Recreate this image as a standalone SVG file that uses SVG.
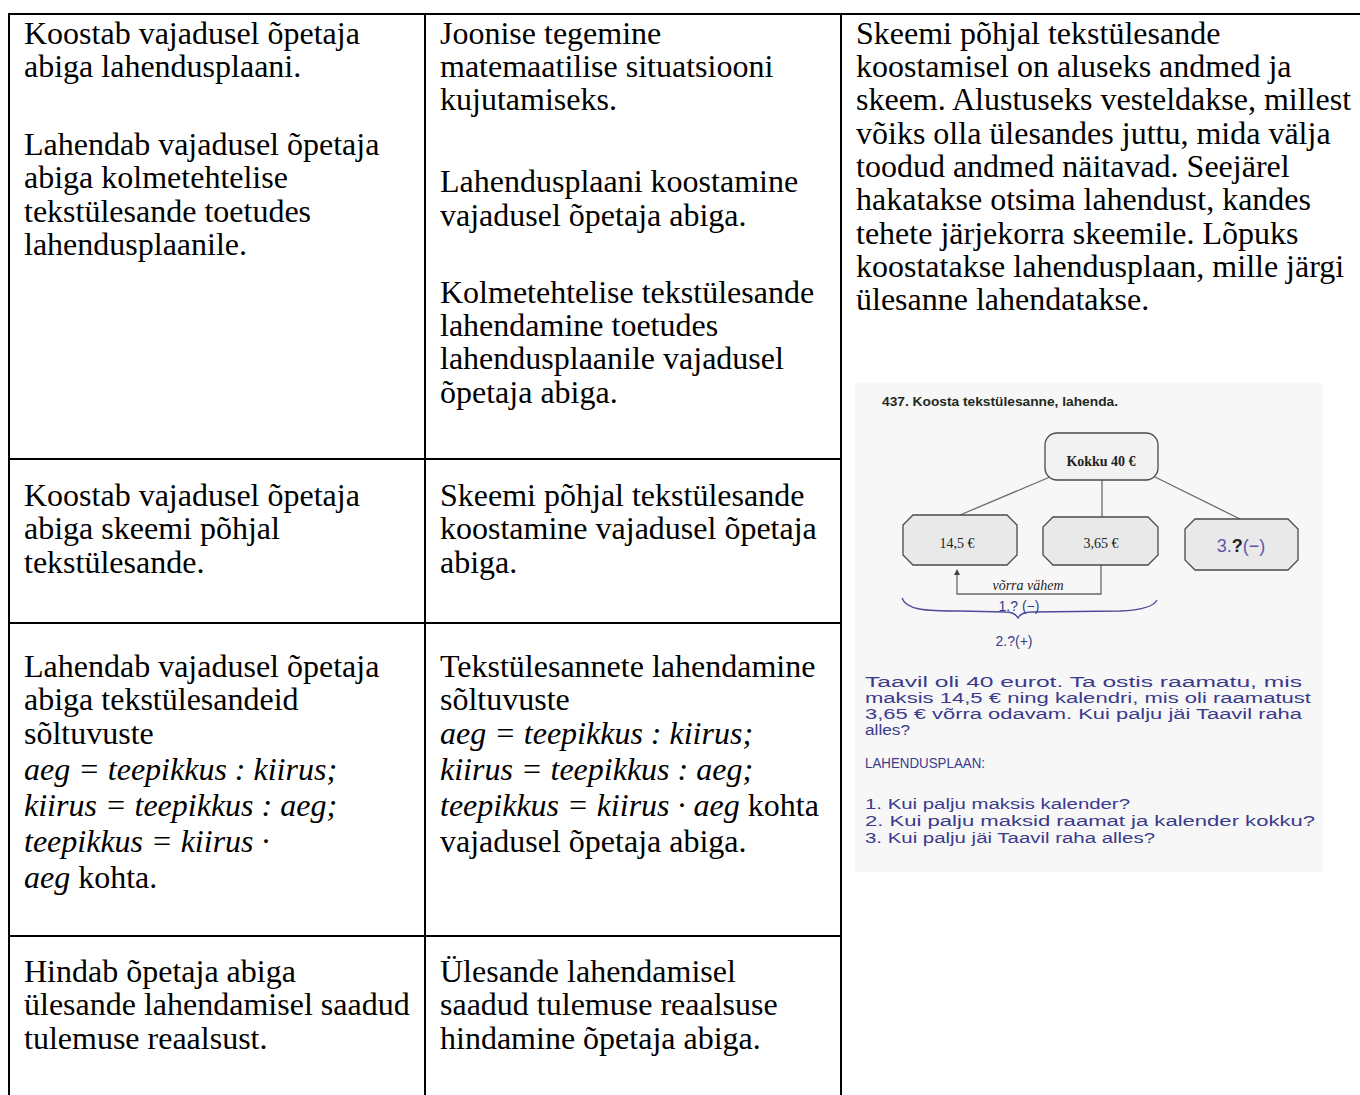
<svg xmlns="http://www.w3.org/2000/svg" width="1360" height="1095" viewBox="0 0 1360 1095">
<style>
.t{font-family:"Liberation Serif","Times New Roman",serif;font-size:32px;fill:#000}
.i{font-style:italic}
.grid{stroke:#000;stroke-width:2;fill:none}
.hw{font-family:"Liberation Sans",Arial,sans-serif;font-size:14px;fill:#3a3a8c}
.box{fill:#e9e9e9;stroke:#4a4a4a;stroke-width:1.3}
.sl{stroke:#6a6a6a;stroke-width:1.3;fill:none}
.st{font-family:"Liberation Serif","Times New Roman",serif;font-size:14px;fill:#222}
</style>
<defs>
<marker id="ah" markerWidth="6" markerHeight="6" refX="3" refY="3" orient="auto" markerUnits="userSpaceOnUse">
<path d="M0,0 L6,3 L0,6 z" fill="#444"/>
</marker>
</defs>
<rect width="1360" height="1095" fill="#fff"/>

<g id="grid">
<line class="grid" x1="8" y1="14" x2="1360" y2="14"/>
<line class="grid" x1="9" y1="13" x2="9" y2="1095"/>
<line class="grid" x1="425" y1="13" x2="425" y2="1095"/>
<line class="grid" x1="841" y1="13" x2="841" y2="1095"/>
<line class="grid" x1="8" y1="459" x2="842" y2="459"/>
<line class="grid" x1="8" y1="623" x2="842" y2="623"/>
<line class="grid" x1="8" y1="936" x2="842" y2="936"/>
</g>

<g id="r1c1">
<text class="t" x="24" y="44">Koostab vajadusel õpetaja</text>
<text class="t" x="24" y="77">abiga lahendusplaani.</text>
<text class="t" x="24" y="155">Lahendab vajadusel õpetaja</text>
<text class="t" x="24" y="188">abiga kolmetehtelise</text>
<text class="t" x="24" y="222">tekstülesande toetudes</text>
<text class="t" x="24" y="255">lahendusplaanile.</text>
</g>

<g id="r1c2">
<text class="t" x="440" y="44">Joonise tegemine</text>
<text class="t" x="440" y="77">matemaatilise situatsiooni</text>
<text class="t" x="440" y="110">kujutamiseks.</text>
<text class="t" x="440" y="192">Lahendusplaani koostamine</text>
<text class="t" x="440" y="226">vajadusel õpetaja abiga.</text>
<text class="t" x="440" y="303">Kolmetehtelise tekstülesande</text>
<text class="t" x="440" y="336">lahendamine toetudes</text>
<text class="t" x="440" y="369">lahendusplaanile vajadusel</text>
<text class="t" x="440" y="403">õpetaja abiga.</text>
</g>

<g id="r2c1">
<text class="t" x="24" y="506">Koostab vajadusel õpetaja</text>
<text class="t" x="24" y="539">abiga skeemi põhjal</text>
<text class="t" x="24" y="573">tekstülesande.</text>
</g>

<g id="r2c2">
<text class="t" x="440" y="506">Skeemi põhjal tekstülesande</text>
<text class="t" x="440" y="539">koostamine vajadusel õpetaja</text>
<text class="t" x="440" y="573">abiga.</text>
</g>

<g id="r3c1">
<text class="t" x="24" y="677">Lahendab vajadusel õpetaja</text>
<text class="t" x="24" y="710">abiga tekstülesandeid</text>
<text class="t" x="24" y="744">sõltuvuste</text>
<text class="t i" x="24" y="780">aeg = teepikkus : kiirus;</text>
<text class="t i" x="24" y="816">kiirus = teepikkus : aeg;</text>
<text class="t i" x="24" y="852">teepikkus = kiirus ·</text>
<text class="t" x="24" y="888"><tspan class="i">aeg</tspan> kohta.</text>
</g>

<g id="r3c2">
<text class="t" x="440" y="677">Tekstülesannete lahendamine</text>
<text class="t" x="440" y="710">sõltuvuste</text>
<text class="t i" x="440" y="744">aeg = teepikkus : kiirus;</text>
<text class="t i" x="440" y="780">kiirus = teepikkus : aeg;</text>
<text class="t" x="440" y="816"><tspan class="i">teepikkus = kiirus · aeg</tspan> kohta</text>
<text class="t" x="440" y="852">vajadusel õpetaja abiga.</text>
</g>

<g id="r4c1">
<text class="t" x="24" y="982">Hindab õpetaja abiga</text>
<text class="t" x="24" y="1015">ülesande lahendamisel saadud</text>
<text class="t" x="24" y="1049">tulemuse reaalsust.</text>
</g>

<g id="r4c2">
<text class="t" x="440" y="982">Ülesande lahendamisel</text>
<text class="t" x="440" y="1015">saadud tulemuse reaalsuse</text>
<text class="t" x="440" y="1049">hindamine õpetaja abiga.</text>
</g>

<g id="c3text">
<text class="t" x="856" y="44">Skeemi põhjal tekstülesande</text>
<text class="t" x="856" y="77">koostamisel on aluseks andmed ja</text>
<text class="t" x="856" y="110">skeem. Alustuseks vesteldakse, millest</text>
<text class="t" x="856" y="144">võiks olla ülesandes juttu, mida välja</text>
<text class="t" x="856" y="177">toodud andmed näitavad. Seejärel</text>
<text class="t" x="856" y="210">hakatakse otsima lahendust, kandes</text>
<text class="t" x="856" y="244">tehete järjekorra skeemile. Lõpuks</text>
<text class="t" x="856" y="277">koostatakse lahendusplaan, mille järgi</text>
<text class="t" x="856" y="310">ülesanne lahendatakse.</text>
</g>

<g id="scan">
<rect x="855" y="383" width="468" height="489" fill="#f7f7f7"/>
<text x="882" y="406" font-family="Liberation Sans, Arial, sans-serif" font-weight="bold" font-size="13" fill="#1e2a1e" textLength="236" lengthAdjust="spacingAndGlyphs">437. Koosta tekstülesanne, lahenda.</text>
</g>

<g id="connectors">
<line class="sl" x1="1050" y1="477" x2="960" y2="515"/>
<line class="sl" x1="1102" y1="480" x2="1102" y2="517"/>
<line class="sl" x1="1155" y1="477" x2="1240" y2="519"/>
<polyline class="sl" points="1101,565 1101,594 957,594 957,572" marker-end="url(#ah)"/>
<path d="M902,598 C906,610 925,611 960,611 L1005,612 C1012,612 1016,614 1018,618 C1020,614 1025,612 1032,612 L1120,611 C1145,610 1154,606 1157,600" fill="none" stroke="#4e4a9c" stroke-width="1.3"/>
</g>

<g id="kokku">
<rect x="1045" y="433" width="113" height="47" rx="12" fill="#f2f2f2" stroke="#4a4a4a" stroke-width="1.3"/>
<text class="st" x="1101" y="466" text-anchor="middle" font-weight="bold">Kokku 40 €</text>
</g>
<g id="b145">
<polygon class="box" points="913,515 1007,515 1017,525 1017,555 1007,565 913,565 903,555 903,525"/>
<text class="st" x="957" y="548" text-anchor="middle">14,5 €</text>
</g>
<g id="b365">
<polygon class="box" points="1053,517 1148,517 1158,527 1158,555 1148,565 1053,565 1043,555 1043,527"/>
<text class="st" x="1101" y="548" text-anchor="middle">3,65 €</text>
</g>
<g id="b3">
<polygon class="box" points="1195,519 1288,519 1298,529 1298,560 1288,570 1195,570 1185,560 1185,529" fill="#efefef"/>
<text x="1241" y="552" text-anchor="middle" font-family="Liberation Sans, Arial, sans-serif" font-size="18" fill="#5a5aa8">3.<tspan font-weight="bold" fill="#222">?</tspan>(−)</text>
</g>
<g id="labels">
<text class="st i" x="1028" y="590" text-anchor="middle" font-size="13">võrra vähem</text>
<text class="hw" x="1019" y="611" text-anchor="middle" font-size="13">1.? (−)</text>
<text class="hw" x="1014" y="646" text-anchor="middle" font-size="18">2.?(+)</text>
</g>
<g id="handwriting">
<text class="hw" x="865" y="687" textLength="437" lengthAdjust="spacingAndGlyphs">Taavil  oli  40 eurot.  Ta  ostis  raamatu, mis</text>
<text class="hw" x="865" y="703" textLength="446" lengthAdjust="spacingAndGlyphs">maksis  14,5 €  ning  kalendri, mis oli  raamatust</text>
<text class="hw" x="865" y="719" textLength="437" lengthAdjust="spacingAndGlyphs">3,65 € võrra  odavam.  Kui  palju  jäi  Taavil  raha</text>
<text class="hw" x="865" y="735" textLength="45" lengthAdjust="spacingAndGlyphs">alles?</text>
<text class="hw" x="865" y="768" textLength="120" lengthAdjust="spacingAndGlyphs">LAHENDUSPLAAN:</text>
<text class="hw" x="865" y="809" textLength="265" lengthAdjust="spacingAndGlyphs">1. Kui palju maksis kalender?</text>
<text class="hw" x="865" y="826" textLength="450" lengthAdjust="spacingAndGlyphs">2. Kui palju maksid raamat ja kalender kokku?</text>
<text class="hw" x="865" y="843" textLength="290" lengthAdjust="spacingAndGlyphs">3. Kui palju jäi Taavil raha alles?</text>
</g>
</svg>
